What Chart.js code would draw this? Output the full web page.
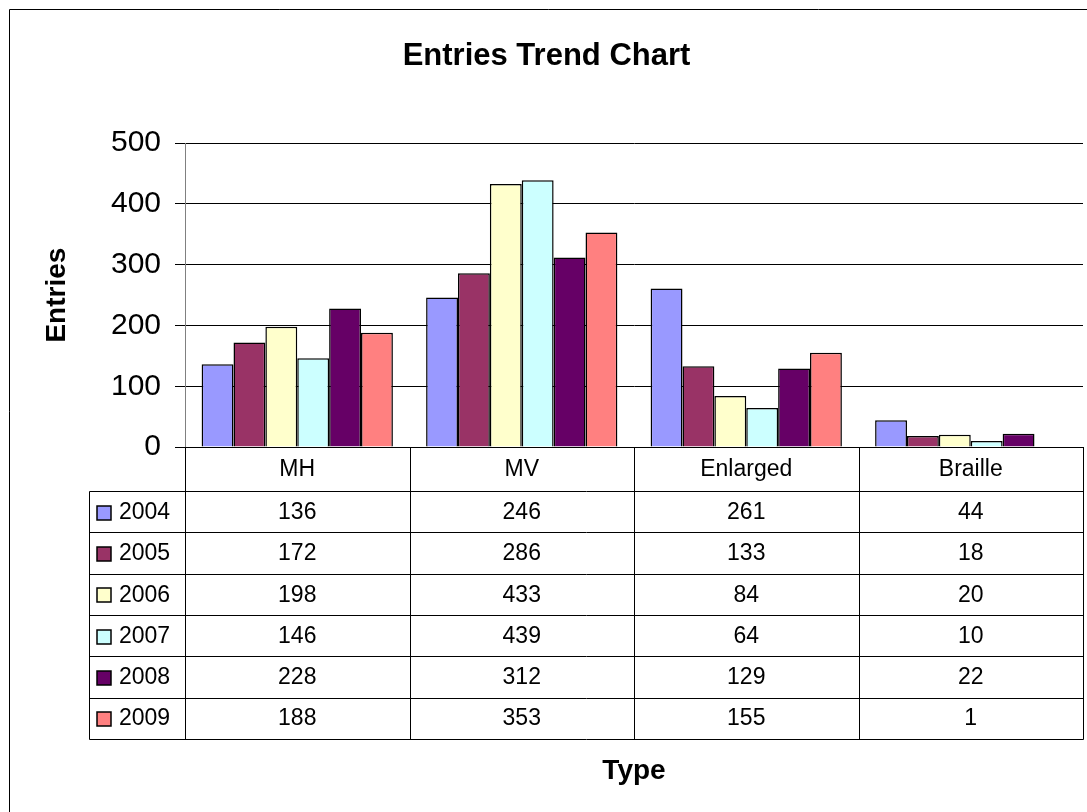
<!DOCTYPE html>
<html>
<head>
<meta charset="utf-8">
<script src="https://cdn.jsdelivr.net/npm/chart.js@4/dist/chart.umd.min.js"></script>
<style>
  html, body { margin: 0; padding: 0; background: #fff; }
  #wrap { width: 1087px; height: 812px; position: relative; }
</style>
</head>
<body>
<div id="wrap"><canvas id="chart"></canvas></div>
<script>
const categories = ['MH', 'MV', 'Enlarged', 'Braille'];
const years = ['2004', '2005', '2006', '2007', '2008', '2009'];
const entries2004 = [136, 246, 261, 44];
const entries2005 = [172, 286, 133, 18];
const entries2006 = [198, 433, 84, 20];
const entries2007 = [146, 439, 64, 10];
const entries2008 = [228, 312, 129, 22];
const entries2009 = [188, 353, 155, 1];
const yTickValues = [0, 100, 200, 300, 400, 500];

const seriesValues = [entries2004, entries2005, entries2006, entries2007, entries2008, entries2009];
const seriesColors = ['#9999FF', '#993366', '#FFFFCC', '#CCFFFF', '#660066', '#FF8080'];
const FONT = 'Arial, "Liberation Sans", sans-serif';

// data table + outer frame + x title, drawn under the plot
const dataTablePlugin = {
    id: 'dataTable',
    beforeDraw(chart) {
        const ctx = chart.ctx;
        ctx.save();
        ctx.fillStyle = '#fff';
        ctx.fillRect(0, 0, chart.width, chart.height);
        ctx.strokeStyle = '#000';
        ctx.lineWidth = 1;
        ctx.beginPath();
        ctx.moveTo(9.5, chart.height + 5);
        ctx.lineTo(9.5, 9.5);
        ctx.lineTo(chart.width + 5, 9.5);
        ctx.stroke();
        ctx.restore();
    },
    afterDraw(chart) {
        const ctx = chart.ctx;
        const area = chart.chartArea;
        const x = chart.scales.x;
        const half = (area.right - area.left) / categories.length / 2;
        const colEdges = [area.left];
        categories.forEach((c, i) => colEdges.push(x.getPixelForValue(i) + half));

        const legendLeft = 89.5;
        const headTop = area.bottom;
        const headBottom = headTop + 44;
        const rowH = 41.3;
        const tableBottom = headBottom + rowH * years.length;

        ctx.save();
        ctx.strokeStyle = '#000';
        ctx.lineWidth = 1;
        ctx.beginPath();
        // horizontal rules
        for (let r = 0; r <= years.length; r++) {
            const y = Math.round(headBottom + rowH * r) + 0.5;
            ctx.moveTo(legendLeft, y);
            ctx.lineTo(Math.round(area.right) + 0.5, y);
        }
        // vertical rules
        colEdges.forEach(cx => {
            const px = Math.round(cx) + 0.5;
            ctx.moveTo(px, headTop);
            ctx.lineTo(px, Math.round(tableBottom) + 0.5);
        });
        ctx.moveTo(legendLeft, Math.round(headBottom) + 0.5);
        ctx.lineTo(legendLeft, Math.round(tableBottom) + 0.5);
        ctx.stroke();

        ctx.fillStyle = '#000';
        ctx.font = '23px ' + FONT;
        ctx.textAlign = 'center';
        ctx.textBaseline = 'middle';
        categories.forEach((c, i) => {
            ctx.fillText(c, x.getPixelForValue(i), (headTop + headBottom) / 2 + 1);
        });

        years.forEach((yr, r) => {
            const cy = headBottom + rowH * r + rowH / 2 + 1;
            seriesValues[r].forEach((v, i) => {
                ctx.textAlign = 'center';
                ctx.fillText(String(v), x.getPixelForValue(i), cy);
            });
            // legend key
            ctx.fillStyle = seriesColors[r];
            ctx.fillRect(97, Math.round(cy - 7), 14, 14);
            ctx.strokeStyle = '#000';
            ctx.lineWidth = 1.5;
            ctx.strokeRect(97, Math.round(cy - 7), 14, 14);
            ctx.fillStyle = '#000';
            ctx.textAlign = 'left';
            ctx.fillText(yr, 119, cy);
        });

        ctx.font = 'bold 28px ' + FONT;
        ctx.textAlign = 'center';
        ctx.fillText('Type', (colEdges[0] + colEdges[colEdges.length - 1]) / 2, 771);
        ctx.restore();
    }
};

new Chart(document.getElementById('chart'), {
    type: 'bar',
    data: {
        labels: categories,
        datasets: years.map((yr, i) => ({
            label: yr,
            data: seriesValues[i],
            backgroundColor: seriesColors[i],
            borderColor: '#000',
            borderWidth: 1.5,
            categoryPercentage: 0.852,
            barPercentage: 1.0
        }))
    },
    options: {
        responsive: true,
        maintainAspectRatio: false,
        animation: false,
        layout: {
            padding: { left: 10, top: 10, right: 4, bottom: 365 }
        },
        plugins: {
            legend: { display: false },
            tooltip: { enabled: false },
            title: {
                display: true,
                text: 'Entries Trend Chart',
                color: '#000',
                font: { family: FONT, size: 31, weight: 'bold' },
                padding: { top: 28, bottom: 68 }
            }
        },
        scales: {
            x: {
                display: false,
                grid: { display: false }
            },
            y: {
                min: 0,
                max: 500,
                afterBuildTicks(scale) {
                    scale.ticks = yTickValues.map(v => ({ value: v }));
                },
                afterFit(scale) {
                    scale.width = 175;
                },
                border: { color: '#808080', width: 1 },
                grid: {
                    color: '#000',
                    lineWidth: 1,
                    drawTicks: true,
                    tickLength: 10,
                    tickColor: '#000'
                },
                ticks: {
                    color: '#000',
                    padding: 14,
                    font: { family: FONT, size: 30 }
                },
                title: {
                    display: true,
                    text: 'Entries',
                    color: '#000',
                    font: { family: FONT, size: 28, weight: 'bold' },
                    padding: { top: 30, bottom: 0 }
                }
            }
        }
    },
    plugins: [dataTablePlugin]
});
</script>
</body>
</html>
